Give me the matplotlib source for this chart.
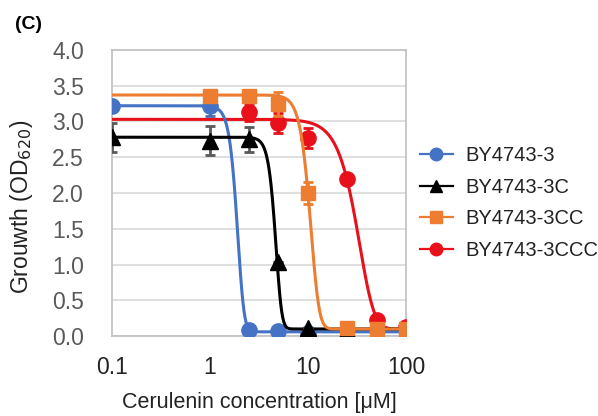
import matplotlib.pyplot as plt
import numpy as np

plt.rcParams['font.family'] = ['Liberation Sans', 'DejaVu Sans']

# cerulenin concentrations [uM]
conc = [0.1, 1, 2.5, 5, 10, 25, 50, 100]

# measured growth (OD620), None = no point shown
y_3 = [3.22, 3.22, 0.08, 0.07, 0.05, None, None, None]
e_3 = [0.0, 0.15, 0.0, 0.0, 0.0, 0, 0, 0]
y_3c = [2.78, 2.73, 2.75, 1.04, 0.12, 0.08, None, None]
e_3c = [0.2, 0.2, 0.17, 0.0, 0.0, 0.0, 0, 0]
y_3cc = [None, 3.36, 3.35, 3.24, 2.0, 0.12, 0.1, 0.1]
e_3cc = [0, 0.05, 0.08, 0.17, 0.16, 0.0, 0.0, 0.0]
y_3ccc = [None, None, 3.13, 2.98, 2.77, 2.2, 0.22, 0.13]
e_3ccc = [0, 0, 0.12, 0.14, 0.14, 0.05, 0.0, 0.0]

# dose-response fit parameters: top, bottom, EC50, slope, asymmetry
fit_3 = (3.22, 0.06, 2.18, 9, 3)
fit_3c = (2.78, 0.10, 5.29, 10, 3)
fit_3cc = (3.37, 0.10, 12.6, 7, 3)
fit_3ccc = (3.03, 0.10, 53.4, 3.5, 5)

names = ['BY4743-3', 'BY4743-3C', 'BY4743-3CC', 'BY4743-3CCC']
colors = ['#4472C4', '#000000', '#ED7D31', '#E8101A']
err_colors = ['#4a6cae', '#595959', '#ED7D31', '#E8101A']
markers = ['o', '^', 's', 'o']
zorders = [4, 5, 6, 3]


def curve(x, p):
    top, bot, c, n, s = p
    return bot + (top - bot) / (1 + (x / c) ** n) ** s


fig = plt.figure(figsize=(5.98, 4.16), dpi=100)
ax = fig.add_axes([0.187, 0.192, 0.492, 0.688])

xs = np.logspace(-1, 2, 600)
series = [(y_3, e_3, fit_3), (y_3c, e_3c, fit_3c),
          (y_3cc, e_3cc, fit_3cc), (y_3ccc, e_3ccc, fit_3ccc)]
for i, (ys, es, p) in enumerate(series):
    z = zorders[i]
    ax.plot(xs, curve(xs, p), color=colors[i], lw=2.2, zorder=z)
    px = [c for c, v in zip(conc, ys) if v is not None]
    py = [v for v in ys if v is not None]
    pe = [e for e, v in zip(es, ys) if v is not None]
    ax.errorbar(px, py, yerr=pe, fmt='none', ecolor=err_colors[i],
                elinewidth=2, capsize=3.5, capthick=2, zorder=z)
    ax.plot(px, py, ls='none', marker=markers[i], ms=11 if markers[i] != 's' else 10,
            color=colors[i], zorder=z + 0.1)
    ax.plot([], [], color=colors[i], lw=1.6, marker=markers[i], ms=9,
            label=names[i])

ax.set_xscale('log')
ax.set_xlim(0.1, 100)
ax.set_ylim(0, 4)
ax.set_yticks(np.arange(0, 4.01, 0.5))
ax.set_yticklabels(['%.1f' % v for v in np.arange(0, 4.01, 0.5)])
ax.set_xticks([0.1, 1, 10, 100])
ax.set_xticklabels(['0.1', '1', '10', '100'])
ax.minorticks_off()
ax.tick_params(length=0, labelsize=16.5, colors='#595959')
ax.tick_params(axis='y', pad=20)
ax.tick_params(axis='x', pad=14, labelcolor='#222222')
ax.grid(axis='y', color='#d9d9d9', lw=1.2)
ax.set_axisbelow(True)
for sp in ax.spines.values():
    sp.set_color('#bfbfbf')
    sp.set_linewidth(1.2)

ax.set_xlabel('Cerulenin concentration [\u03bcM]', fontsize=15.5, color='#222222', labelpad=10)
ax.set_ylabel('Grouwth (OD$_{620}$)', fontsize=16.5, color='#222222')
ax.yaxis.set_label_coords(-0.26, 0.45)

fig.text(0.025, 0.93, '(C)', fontsize=14, fontweight='bold')

leg = ax.legend(loc='center left', bbox_to_anchor=(1.047, 0.465), frameon=False,
                fontsize=14.5, handlelength=1.65, labelspacing=0.62,
                handletextpad=0.6, borderpad=0, borderaxespad=0)
for t in leg.get_texts():
    t.set_color('#222222')

fig.savefig('out.png', dpi=100)
